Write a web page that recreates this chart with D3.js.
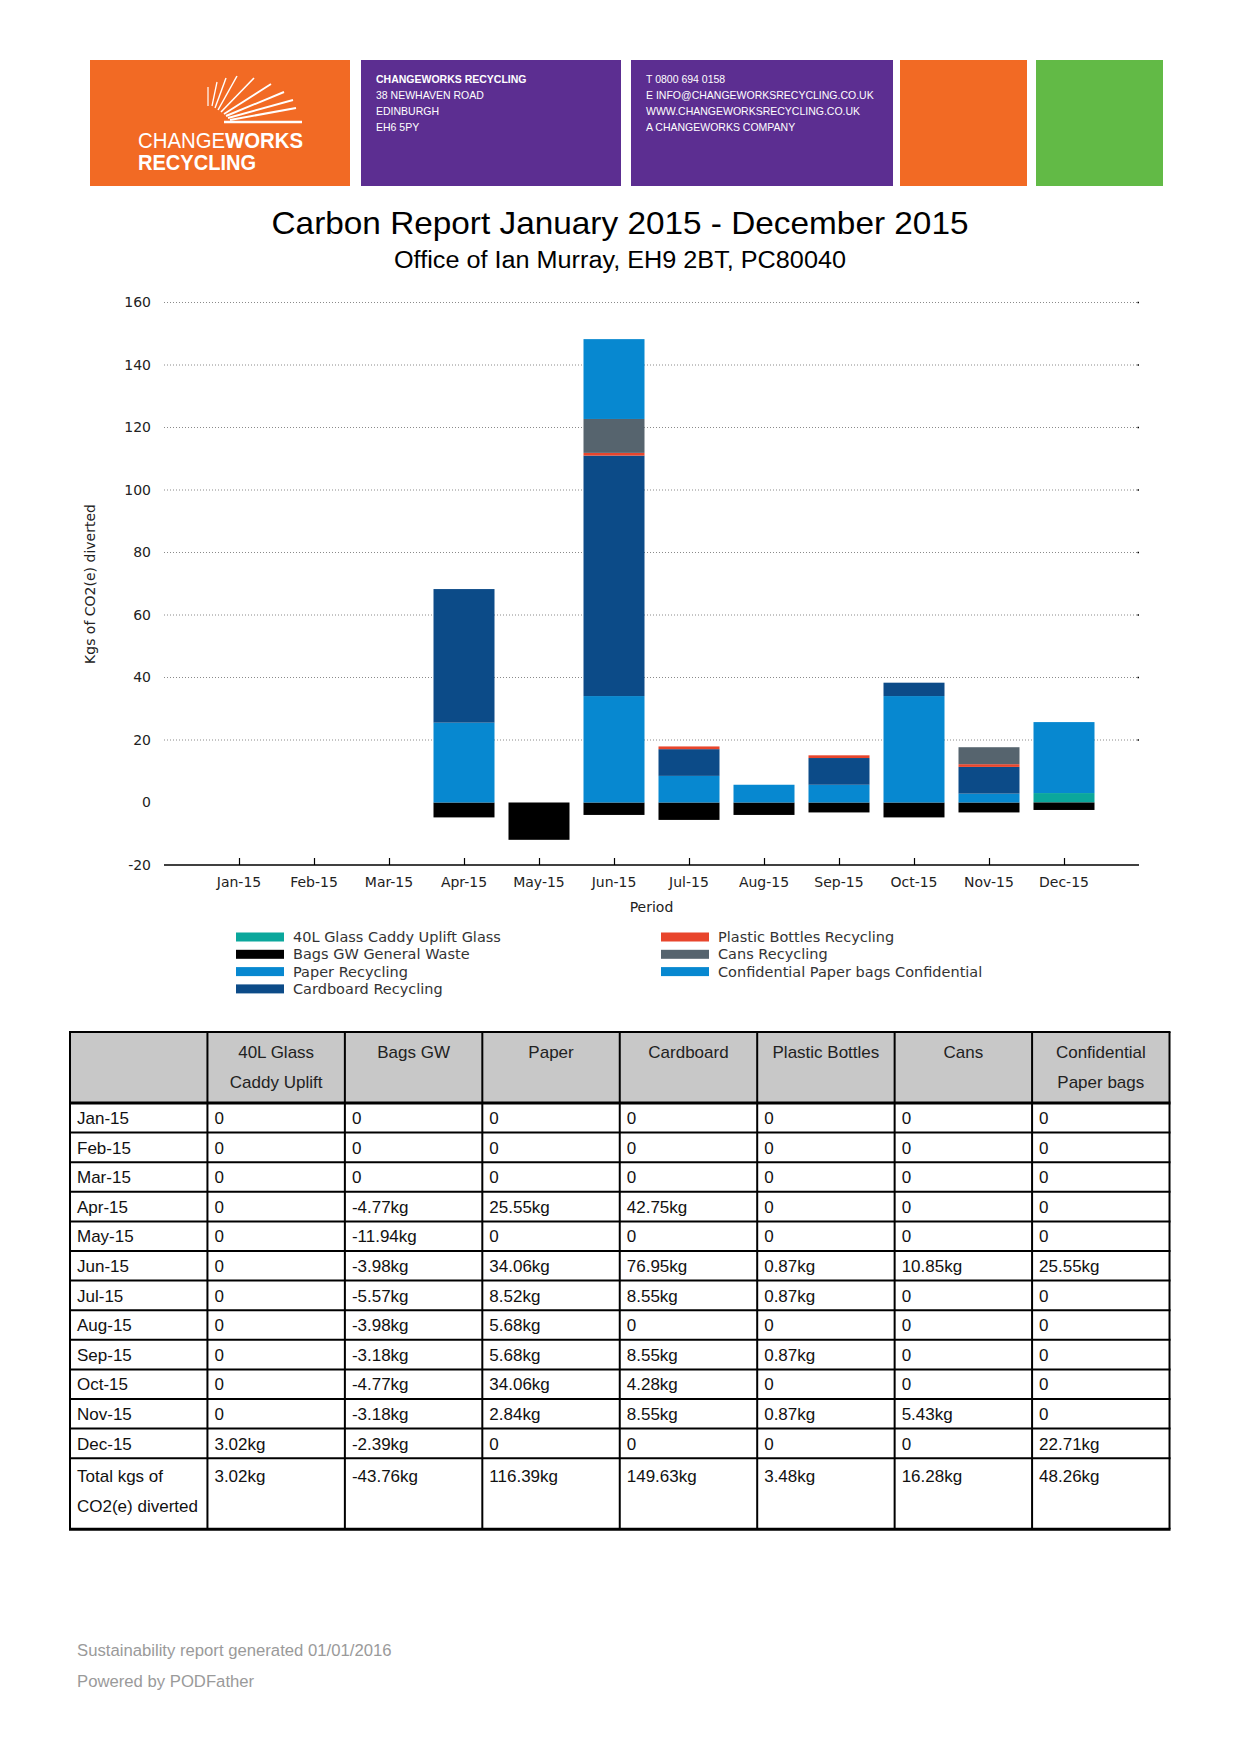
<!DOCTYPE html>
<html>
<head>
<meta charset="utf-8">
<script src="https://cdn.jsdelivr.net/npm/d3@7/dist/d3.min.js"></script>
<style>
  body { margin: 0; background: #fff; }
  svg { display: block; }
</style>
</head>
<body>
<div id="page"></div>
<script>
// data
const months = ["Jan-15", "Feb-15", "Mar-15", "Apr-15", "May-15", "Jun-15", "Jul-15", "Aug-15", "Sep-15", "Oct-15", "Nov-15", "Dec-15"];
const glass        = [0, 0, 0, 0, 0, 0, 0, 0, 0, 0, 0, 3.02];
const bagsGW       = [0, 0, 0, -4.77, -11.94, -3.98, -5.57, -3.98, -3.18, -4.77, -3.18, -2.39];
const paper        = [0, 0, 0, 25.55, 0, 34.06, 8.52, 5.68, 5.68, 34.06, 2.84, 0];
const cardboard    = [0, 0, 0, 42.75, 0, 76.95, 8.55, 0, 8.55, 4.28, 8.55, 0];
const plastic      = [0, 0, 0, 0, 0, 0.87, 0.87, 0, 0.87, 0, 0.87, 0];
const cans         = [0, 0, 0, 0, 0, 10.85, 0, 0, 0, 0, 5.43, 0];
const confidential = [0, 0, 0, 0, 0, 25.55, 0, 0, 0, 0, 0, 22.71];

const seriesKeys = ["glass", "bagsGW", "paper", "cardboard", "plastic", "cans", "confidential"];
const seriesNames = ["40L Glass Caddy Uplift Glass", "Bags GW General Waste", "Paper Recycling", "Cardboard Recycling",
  "Plastic Bottles Recycling", "Cans Recycling", "Confidential Paper bags Confidential"];
const tableHeads = [[""], ["40L Glass", "Caddy Uplift"], ["Bags GW"], ["Paper"], ["Cardboard"], ["Plastic Bottles"], ["Cans"], ["Confidential", "Paper bags"]];
const yTicks = [-20, 0, 20, 40, 60, 80, 100, 120, 140, 160];

const seriesValues = { glass, bagsGW, paper, cardboard, plastic, cans, confidential };
const colors = {
  glass: "#0ba79c", bagsGW: "#000000", paper: "#0788d0", cardboard: "#0c4b88",
  plastic: "#e8452c", cans: "#56646e", confidential: "#0788d0"
};

const W = 1240, H = 1754;
const svg = d3.select("#page").append("svg")
  .attr("width", W)
  .attr("height", H)
  .attr("viewBox", `0 0 ${W} ${H}`);

// ---- header band ----
const header = svg.append("g");
const blocks = [
  { x: 90, w: 260, c: "#f26a24" },
  { x: 361, w: 260, c: "#5c2e91" },
  { x: 631, w: 262, c: "#5c2e91" },
  { x: 900, w: 127, c: "#f26a24" },
  { x: 1036, w: 127, c: "#62ba46" }
];
header.selectAll("rect")
  .data(blocks)
  .enter()
  .append("rect")
  .attr("x", d => d.x)
  .attr("y", 60)
  .attr("width", d => d.w)
  .attr("height", 126)
  .attr("fill", d => d.c);

// logo rays
const rays = [
  [208, 106, 208, 87, 1.2], [212, 106, 217, 82, 1.3], [215, 108, 226, 78, 1.4],
  [218, 110, 237, 76, 1.5], [221, 112, 254, 78, 1.6], [224, 114, 271, 84, 1.8],
  [226, 116, 284, 92, 1.9], [228, 118, 293, 100, 2], [230, 120, 296, 108, 2.1],
  [224, 122, 302, 122, 2.4]
];
header.selectAll("line.ray")
  .data(rays)
  .enter()
  .append("line")
  .attr("class", "ray")
  .attr("x1", d => d[0]).attr("y1", d => d[1])
  .attr("x2", d => d[2]).attr("y2", d => d[3])
  .attr("stroke", "#fff")
  .attr("stroke-width", d => d[4]);

const logo1 = header.append("text")
  .attr("x", 138).attr("y", 148)
  .attr("textLength", 165).attr("lengthAdjust", "spacingAndGlyphs")
  .style("font", "22px 'Liberation Sans', Arial, sans-serif")
  .attr("fill", "#fff");
logo1.append("tspan").text("CHANGE");
logo1.append("tspan").attr("font-weight", "bold").text("WORKS");
header.append("text")
  .attr("x", 138).attr("y", 170)
  .attr("textLength", 118).attr("lengthAdjust", "spacingAndGlyphs")
  .style("font", "bold 22px 'Liberation Sans', Arial, sans-serif")
  .attr("fill", "#fff")
  .text("RECYCLING");

const addr1 = ["CHANGEWORKS RECYCLING", "38 NEWHAVEN ROAD", "EDINBURGH", "EH6 5PY"];
const addr2 = ["T 0800 694 0158", "E INFO@CHANGEWORKSRECYCLING.CO.UK", "WWW.CHANGEWORKSRECYCLING.CO.UK", "A CHANGEWORKS COMPANY"];
[[addr1, 376], [addr2, 646]].forEach(([lines, x0]) => {
  header.append("g").selectAll("text")
    .data(lines)
    .enter()
    .append("text")
    .attr("x", x0)
    .attr("y", (d, i) => 83 + i * 16)
    .attr("fill", "#fff")
    .style("font-family", "'Liberation Sans', Arial, sans-serif")
    .style("font-size", "10.5px")
    .style("font-weight", (d, i) => (lines === addr1 && i === 0) ? "bold" : "normal")
    .text(d => d);
});

// ---- titles ----
svg.append("text")
  .attr("x", 620).attr("y", 234)
  .attr("text-anchor", "middle")
  .attr("textLength", 697).attr("lengthAdjust", "spacingAndGlyphs")
  .style("font", "32px 'Liberation Sans', Arial, sans-serif")
  .attr("fill", "#000")
  .text("Carbon Report January 2015 - December 2015");
svg.append("text")
  .attr("x", 620).attr("y", 268)
  .attr("text-anchor", "middle")
  .attr("textLength", 452).attr("lengthAdjust", "spacingAndGlyphs")
  .style("font", "23px 'Liberation Sans', Arial, sans-serif")
  .attr("fill", "#000")
  .text("Office of Ian Murray, EH9 2BT, PC80040");

// ---- chart ----
const left = 164, right = 1139;
const x = d3.scalePoint().domain(months).range([left, right]).padding(1);
const y = d3.scaleLinear().domain([-20, 160]).range([865, 302.5]);
const barW = 61;
const chartFont = "'DejaVu Sans', Verdana, sans-serif";

const chart = svg.append("g");

// gridlines (no line at 0 or at the base)
const grid = chart.append("g");
grid.selectAll("line")
  .data(yTicks.filter(t => t > 0))
  .enter()
  .append("line")
  .attr("x1", left).attr("x2", right)
  .attr("y1", d => y(d)).attr("y2", d => y(d))
  .attr("stroke", "#8a8a8a")
  .attr("stroke-width", 1)
  .attr("stroke-dasharray", "1,2");
grid.selectAll("rect")
  .data(yTicks.filter(t => t > 0))
  .enter()
  .append("rect")
  .attr("x", right - 1.5).attr("y", d => y(d) - 0.75)
  .attr("width", 1.5).attr("height", 1.5)
  .attr("fill", "#000");

// stacked bars
const rows = months.map((m, i) => {
  const r = { month: m };
  seriesKeys.forEach(k => { r[k] = seriesValues[k][i]; });
  return r;
});
const stacked = d3.stack()
  .keys(seriesKeys)
  .offset(d3.stackOffsetDiverging)(rows);

chart.append("g")
  .selectAll("g")
  .data(stacked)
  .enter()
  .append("g")
  .attr("fill", d => colors[d.key])
  .selectAll("rect")
  .data(d => d.filter(p => p[1] !== p[0]))
  .enter()
  .append("rect")
  .attr("x", d => x(d.data.month) - barW / 2)
  .attr("width", barW)
  .attr("y", d => y(Math.max(d[0], d[1])))
  .attr("height", d => Math.abs(y(d[0]) - y(d[1])));

// x axis
const xAxis = chart.append("g")
  .attr("transform", `translate(0,${y(-20)})`)
  .call(d3.axisTop(x).tickSize(7).tickFormat(""));
xAxis.select(".domain")
  .attr("d", `M${left},0H${right}`)
  .attr("stroke", "#000")
  .attr("stroke-width", 1.5);
xAxis.selectAll(".tick line").attr("stroke", "#000").attr("stroke-width", 1.2);

chart.append("g")
  .selectAll("text")
  .data(months)
  .enter()
  .append("text")
  .attr("x", d => x(d))
  .attr("y", 887)
  .attr("text-anchor", "middle")
  .style("font", `14px ${chartFont}`)
  .attr("fill", "#222")
  .text(d => d);

// y labels
const yAxis = chart.append("g")
  .attr("transform", `translate(${left},0)`)
  .call(d3.axisLeft(y).tickValues(yTicks).tickSize(0).tickPadding(13).tickFormat(d => String(d)));
yAxis.select(".domain").remove();
yAxis.selectAll("text")
  .style("font", `14px ${chartFont}`)
  .attr("fill", "#222");

chart.append("text")
  .attr("transform", "translate(95,584) rotate(-90)")
  .attr("text-anchor", "middle")
  .style("font", `14px ${chartFont}`)
  .attr("fill", "#222")
  .text("Kgs of CO2(e) diverted");

chart.append("text")
  .attr("x", (left + right) / 2)
  .attr("y", 912)
  .attr("text-anchor", "middle")
  .style("font", `14px ${chartFont}`)
  .attr("fill", "#222")
  .text("Period");

// legend
const legendItems = seriesKeys.map((k, i) => ({
  key: k,
  name: seriesNames[i],
  col: i < 4 ? 0 : 1,
  row: i < 4 ? i : i - 4
}));
const legend = chart.append("g")
  .selectAll("g")
  .data(legendItems)
  .enter()
  .append("g")
  .attr("transform", d => `translate(${d.col ? 661 : 236},${937 + d.row * 17.3})`);
legend.append("rect")
  .attr("x", 0).attr("y", -4.5)
  .attr("width", 48).attr("height", 9)
  .attr("fill", d => colors[d.key]);
legend.append("text")
  .attr("x", 57).attr("y", 5)
  .style("font", `14.5px ${chartFont}`)
  .attr("fill", "#333")
  .text(d => d.name);

// ---- table ----
const tX = 70, colW = 137.44, tTop = 1032, headH = 71, rowH = 29.6, totH = 71;
const tableFont = "'Liberation Sans', Arial, sans-serif";
const fmt = v => v === 0 ? "0" : `${v.toFixed(2)}kg`;
const dataCols = seriesKeys.map(k => seriesValues[k]);
const totals = dataCols.map(vals => Math.round(d3.sum(vals) * 100) / 100);

const table = svg.append("g");
const bodyTop = tTop + headH;
const totTop = bodyTop + months.length * rowH;
const tBottom = totTop + totH;
const tRight = tX + colW * 8;

table.append("rect")
  .attr("x", tX).attr("y", tTop)
  .attr("width", colW * 8).attr("height", headH)
  .attr("fill", "#c8c8c8");

// header text
tableHeads.forEach((lines, c) => {
  table.append("g").selectAll("text")
    .data(lines)
    .enter()
    .append("text")
    .attr("x", tX + colW * c + colW / 2)
    .attr("y", (d, i) => tTop + 26 + i * 30)
    .attr("text-anchor", "middle")
    .style("font", `17px ${tableFont}`)
    .attr("fill", "#222")
    .text(d => d);
});

// body rows
months.forEach((m, r) => {
  const cells = [m].concat(dataCols.map(vals => fmt(vals[r])));
  table.append("g").selectAll("text")
    .data(cells)
    .enter()
    .append("text")
    .attr("x", (d, c) => tX + colW * c + 7)
    .attr("y", bodyTop + r * rowH + 21)
    .style("font", `17px ${tableFont}`)
    .attr("fill", "#111")
    .text(d => d);
});

// totals row
const totCells = [["Total kgs of", "CO2(e) diverted"]].concat(totals.map(v => [fmt(v)]));
totCells.forEach((lines, c) => {
  table.append("g").selectAll("text")
    .data(lines)
    .enter()
    .append("text")
    .attr("x", tX + colW * c + 7)
    .attr("y", (d, i) => totTop + 24 + i * 30)
    .style("font", `17px ${tableFont}`)
    .attr("fill", "#111")
    .text(d => d);
});

// grid lines of the table
const hLines = [tTop, bodyTop].concat(months.map((m, i) => bodyTop + (i + 1) * rowH)).concat([tBottom]);
table.append("g").selectAll("line")
  .data(hLines)
  .enter()
  .append("line")
  .attr("x1", tX - 1).attr("x2", tRight + 1)
  .attr("y1", d => d).attr("y2", d => d)
  .attr("stroke", "#000")
  .attr("stroke-width", (d, i) => (i === 1 || i === hLines.length - 1) ? 3 : 2);
table.append("g").selectAll("line")
  .data(d3.range(9))
  .enter()
  .append("line")
  .attr("x1", i => tX + i * colW).attr("x2", i => tX + i * colW)
  .attr("y1", tTop).attr("y2", tBottom)
  .attr("stroke", "#000")
  .attr("stroke-width", 2);

// ---- footer ----
svg.append("g").selectAll("text")
  .data(["Sustainability report generated 01/01/2016", "Powered by PODFather"])
  .enter()
  .append("text")
  .attr("x", 77)
  .attr("y", (d, i) => 1656 + i * 30.5)
  .style("font", `16.7px ${tableFont}`)
  .attr("fill", "#9a9a9a")
  .text(d => d);
</script>
</body>
</html>
